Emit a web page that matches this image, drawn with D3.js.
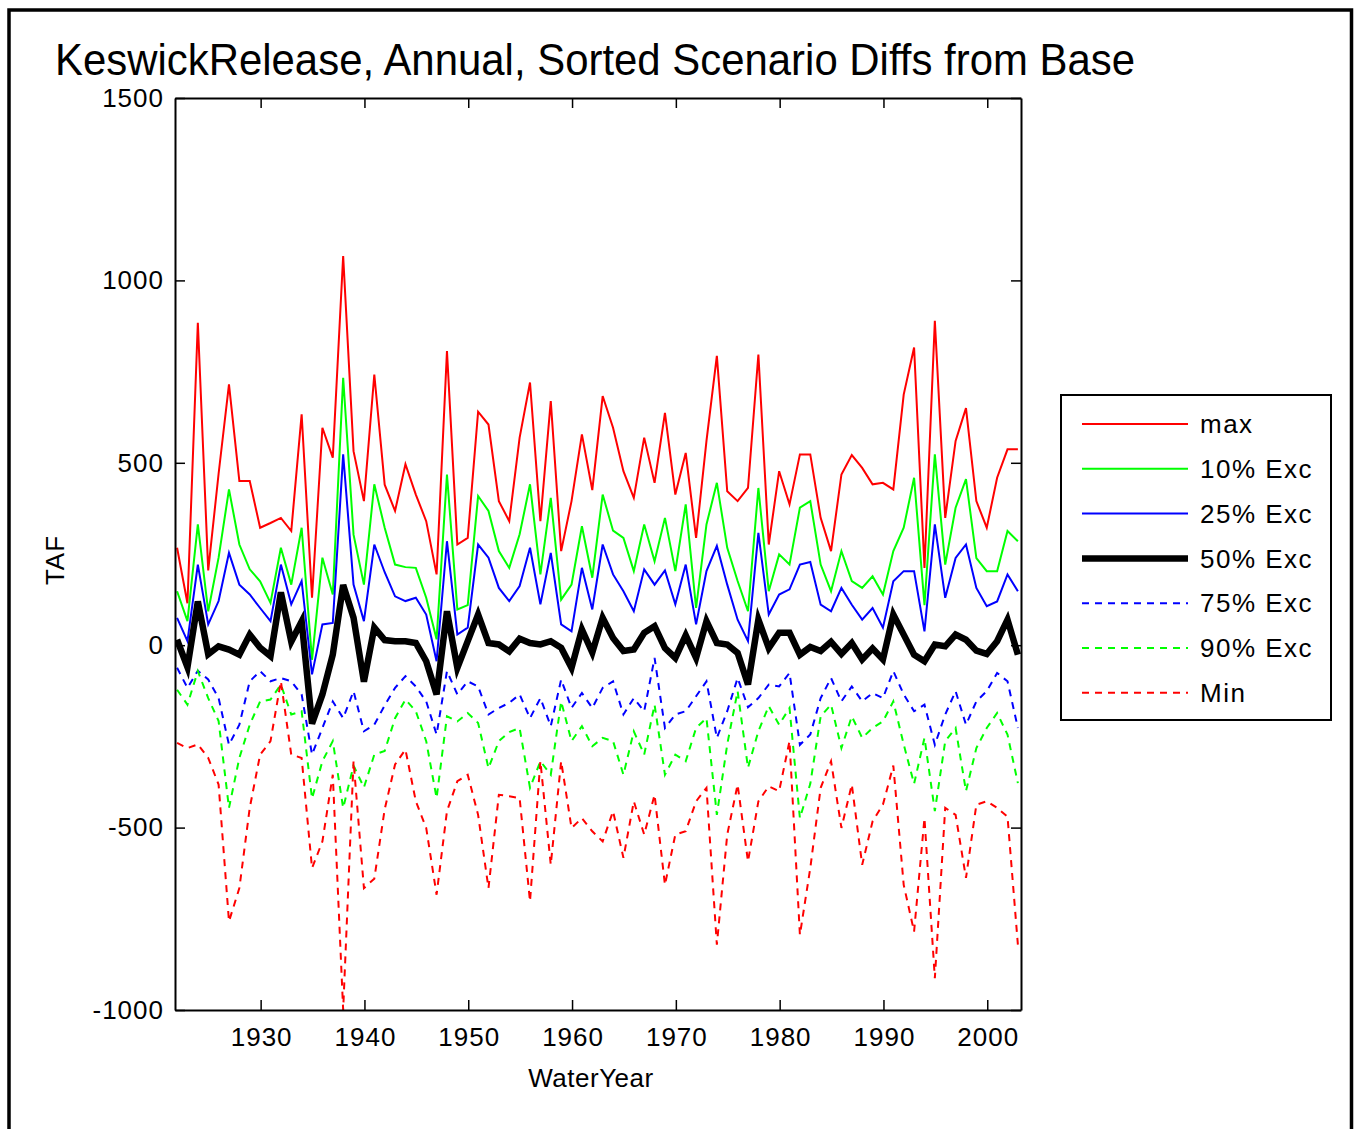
<!DOCTYPE html>
<html lang="en">
<head>
<meta charset="UTF-8">
<title>KeswickRelease, Annual, Sorted Scenario Diffs from Base</title>
<script src="https://d3js.org/d3.v7.min.js"></script>
<style>
  body { margin: 0; background: #fff; }
  svg { display: block; }
  text { font-family: "Liberation Sans", Arial, sans-serif; fill: #000; }
  .axis path, .axis line { stroke: #000; }
  .axis path { stroke-width: 2; }
  .axis line { stroke-width: 1.5; }
</style>
</head>
<body>
<svg id="chart"></svg>
<script>
// Water years 1922-2003
const years = d3.range(1922, 2004);

const maxVals = [267,115,884,205,470,715,450,450,322,335,349,313,633,130,596,514,1067,532,395,742,
  440,368,496,413,340,194,806,276,294,640,605,395,340,569,720,340,669,258,395,578,
  425,683,596,477,404,569,445,637,413,527,294,560,793,422,395,431,797,276,477,386,
  523,523,349,258,468,521,486,441,445,427,687,816,212,889,349,560,650,395,322,459,537,537];

const exc10 = [148,66,331,93,240,427,276,208,175,116,267,166,322,-40,240,139,733,303,166,441,
  322,221,214,212,130,16,468,98,110,409,368,258,212,304,441,194,404,125,166,326,
  185,413,314,294,203,331,230,349,203,386,102,331,445,267,176,93,431,148,249,221,
  377,395,221,148,258,176,157,189,139,258,322,459,110,523,221,377,455,239,203,203,313,285];

const exc25 = [75,11,221,57,121,253,166,139,102,66,221,112,176,-80,57,61,523,166,66,276,
  200,134,121,130,84,-44,285,29,48,276,240,157,121,162,267,112,253,57,38,212,
  98,276,194,148,93,208,166,205,112,221,57,203,272,166,70,11,308,84,139,153,
  221,228,111,93,157,111,70,102,48,175,203,203,38,331,130,239,276,157,107,120,194,148];

const exc50 = [15,-60,120,-25,-3,-12,-26,29,-7,-30,145,10,65,-215,-135,-26,165,75,-100,48,
  14,11,11,6,-44,-135,93,-62,11,84,6,2,-17,18,6,2,11,-7,-62,43,
  -20,75,20,-16,-12,34,52,-8,-35,27,-35,66,6,2,-21,-108,70,-8,34,34,
  -26,-5,-16,9,-24,6,-39,-9,-39,84,29,-26,-44,2,-3,29,15,-15,-24,11,70,-26];

const exc75 = [-62,-117,-70,-94,-145,-273,-218,-99,-71,-99,-90,-99,-135,-300,-227,-154,-200,-126,-236,-218,
  -165,-117,-85,-113,-154,-245,-71,-135,-99,-113,-190,-172,-158,-135,-200,-145,-222,-94,-172,-131,
  -172,-117,-99,-190,-145,-181,-35,-227,-190,-181,-140,-99,-254,-181,-90,-170,-145,-108,-113,-76,
  -273,-245,-145,-90,-154,-113,-154,-131,-145,-71,-135,-181,-163,-273,-190,-126,-218,-154,-126,-76,-99,-227];

const exc90 = [-122,-163,-71,-145,-208,-446,-309,-218,-154,-149,-108,-190,-181,-420,-318,-263,-446,-330,-390,-300,
  -290,-200,-149,-181,-263,-419,-195,-209,-186,-213,-337,-263,-238,-227,-391,-318,-355,-154,-263,-222,
  -277,-254,-263,-355,-236,-300,-163,-355,-300,-318,-227,-200,-465,-272,-126,-336,-236,-167,-218,-172,
  -474,-380,-195,-163,-282,-195,-254,-227,-209,-154,-272,-380,-254,-455,-263,-227,-400,-282,-227,-186,-245,-378];

const minVals = [-268,-282,-272,-309,-382,-757,-666,-446,-300,-263,-99,-300,-309,-611,-538,-355,-1000,-318,-666,-640,
  -450,-327,-286,-428,-501,-684,-455,-373,-355,-465,-666,-410,-414,-419,-702,-318,-602,-318,-501,-474,
  -510,-538,-455,-583,-428,-519,-410,-657,-519,-510,-428,-391,-821,-519,-382,-593,-428,-387,-400,-263,
  -794,-611,-391,-318,-501,-382,-602,-483,-437,-330,-657,-785,-474,-913,-446,-465,-638,-437,-428,-446,-470,-821];

const seriesLabels = ["max", "10% Exc", "25% Exc", "50% Exc", "75% Exc", "90% Exc", "Min"];
const seriesValues = [maxVals, exc10, exc25, exc50, exc75, exc90, minVals];

const xTicks = [1930, 1940, 1950, 1960, 1970, 1980, 1990, 2000];
const yTicks = [-1000, -500, 0, 500, 1000, 1500];

// line styles, same order as seriesLabels
const styles = [
  { color: "#ff0000", width: 2, dash: null },
  { color: "#00ff00", width: 2, dash: null },
  { color: "#0000ff", width: 2, dash: null },
  { color: "#000000", width: 6.5, dash: null },
  { color: "#0000ff", width: 2, dash: "7,6" },
  { color: "#00ff00", width: 2, dash: "7,6" },
  { color: "#ff0000", width: 2, dash: "7,6" }
];

const width = 1357, height = 1129;
const plot = { left: 175, right: 1021, top: 98, bottom: 1010 };
const yearOffset = -0.05; // points sit just before the start of each water year

const svg = d3.select("#chart").attr("width", width).attr("height", height);
svg.append("rect").attr("width", width).attr("height", height).attr("fill", "#fff");

// outer frame
svg.append("path")
  .attr("d", `M9,${height + 10} V10 H1351.5 V${height + 10}`)
  .attr("fill", "none").attr("stroke", "#000").attr("stroke-width", 3.5);

const x = d3.scaleLinear().domain([1921.75, 2003.25]).range([plot.left, plot.right]);
const y = d3.scaleLinear().domain([-1000, 1500]).range([plot.bottom, plot.top]);

svg.append("defs").append("clipPath").attr("id", "clip")
  .append("rect")
  .attr("x", plot.left).attr("y", plot.top)
  .attr("width", plot.right - plot.left).attr("height", plot.bottom - plot.top);

// lines
const line = d3.line()
  .x((d, i) => x(years[i] + yearOffset))
  .y(d => y(d));

const lineLayer = svg.append("g").attr("clip-path", "url(#clip)");
seriesValues.forEach((vals, k) => {
  lineLayer.append("path")
    .datum(vals)
    .attr("d", line)
    .attr("fill", "none")
    .attr("stroke", styles[k].color)
    .attr("stroke-width", styles[k].width)
    .attr("stroke-dasharray", styles[k].dash)
    .attr("stroke-linejoin", "miter");
});

// axes (ticks point inward, MATLAB style box)
const tick = 10;
const plain = d => String(d);

svg.append("g").attr("class", "axis")
  .attr("transform", `translate(0,${plot.bottom})`)
  .call(d3.axisBottom(x).tickValues(xTicks).tickFormat(plain)
    .tickSizeInner(-tick).tickSizeOuter(0).tickPadding(18))
  .call(g => g.selectAll("text").attr("font-size", 26).attr("letter-spacing", 1).attr("dx", 0.5));

svg.append("g").attr("class", "axis")
  .attr("transform", `translate(0,${plot.top})`)
  .call(d3.axisTop(x).tickValues(xTicks).tickFormat("")
    .tickSizeInner(-tick).tickSizeOuter(0));

svg.append("g").attr("class", "axis")
  .attr("transform", `translate(${plot.left},0)`)
  .call(d3.axisLeft(y).tickValues(yTicks).tickFormat(plain)
    .tickSizeInner(-tick).tickSizeOuter(0).tickPadding(11))
  .call(g => g.selectAll("text").attr("font-size", 26).attr("letter-spacing", 1));

svg.append("g").attr("class", "axis")
  .attr("transform", `translate(${plot.right},0)`)
  .call(d3.axisRight(y).tickValues(yTicks).tickFormat("")
    .tickSizeInner(-tick).tickSizeOuter(0));

svg.selectAll(".axis text").style("font-family", null);

// title and axis labels
svg.append("text")
  .attr("x", 55).attr("y", 75)
  .attr("font-size", 44)
  .attr("textLength", 1080)
  .attr("lengthAdjust", "spacingAndGlyphs")
  .text("KeswickRelease, Annual, Sorted Scenario Diffs from Base");

svg.append("text")
  .attr("x", (plot.left + plot.right) / 2 - 7).attr("y", 1087)
  .attr("text-anchor", "middle")
  .attr("font-size", 26)
  .attr("letter-spacing", 0.5)
  .text("WaterYear");

svg.append("text")
  .attr("transform", `translate(64,${(plot.top + plot.bottom) / 2 + 6}) rotate(-90)`)
  .attr("text-anchor", "middle")
  .attr("font-size", 26)
  .attr("letter-spacing", 1)
  .text("TAF");

// legend
const legend = svg.append("g").attr("transform", "translate(1061,395)");
legend.append("rect")
  .attr("width", 270).attr("height", 325)
  .attr("fill", "#fff").attr("stroke", "#000").attr("stroke-width", 2);

seriesLabels.forEach((name, k) => {
  const row = legend.append("g").attr("transform", `translate(0,${29 + k * 44.8})`);
  row.append("line")
    .attr("x1", 21).attr("x2", 127)
    .attr("stroke", styles[k].color)
    .attr("stroke-width", styles[k].width)
    .attr("stroke-dasharray", styles[k].dash);
  row.append("text")
    .attr("x", 139).attr("dy", "0.35em")
    .attr("font-size", 26)
    .attr("letter-spacing", 1.5)
    .text(name);
});
</script>
</body>
</html>
